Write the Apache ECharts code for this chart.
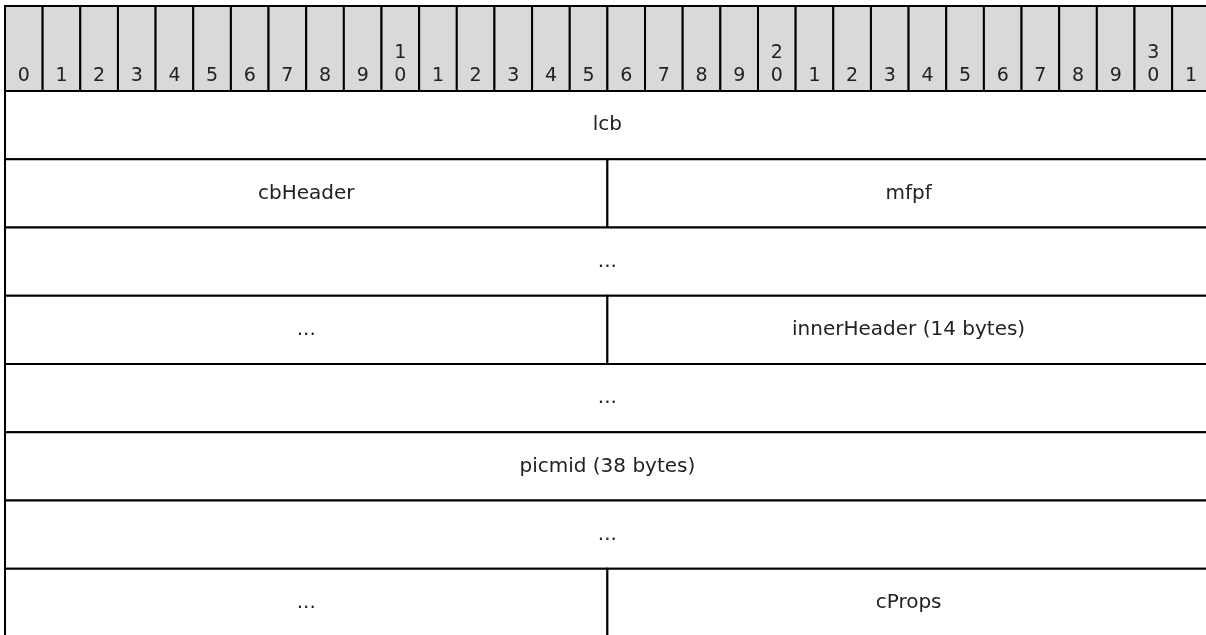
<!DOCTYPE html>
<html><head><meta charset="utf-8">
<script src="https://cdn.jsdelivr.net/npm/echarts@6/dist/echarts.min.js"></script>
<style>html,body{margin:0;padding:0;background:#fff}#c{width:1206px;height:635px}</style>
</head><body><div id="c"></div>
<script>
// Bit header labels (32 bits; 10/20/30 wrap onto two lines)
const bitLabels = ['0','1','2','3','4','5','6','7','8','9','1\n0','1','2','3','4','5','6','7','8','9','2\n0','1','2','3','4','5','6','7','8','9','3\n0','1'];
// Fields of the structure
const fieldNames = ['lcb','cbHeader','mfpf','...','...','innerHeader (14 bytes)','...','picmid (38 bytes)','...','...','cProps'];
const fieldRows = [0,1,1,2,3,3,4,5,6,7,7];
const fieldStartBits = [0,0,16,0,0,16,0,0,0,0,16];
const fieldBitWidths = [32,16,16,32,16,16,32,32,32,16,16];
const rowCount = 8;
const bitCount = 32;

const HEADER = 85 / 68.25;
const FONT = 'Verdana, "DejaVu Sans", sans-serif';
const FS = 20;

const chart = echarts.init(document.getElementById('c'), null, {renderer: 'canvas'});
chart.setOption({
  animation: false,
  backgroundColor: '#fff',
  grid: {left: 5, top: 6, width: bitCount * 37.65, height: 85 + rowCount * 68.25, outerBoundsMode: 'none', containLabel: false},
  xAxis: {type: 'value', min: 0, max: bitCount, show: false},
  yAxis: {type: 'value', min: 0, max: HEADER + rowCount, inverse: true, show: false},
  series: [
    {
      type: 'custom',
      clip: false,
      data: bitLabels.map((l, i) => [i, i + 1]),
      renderItem: function (params, api) {
        const i = api.value(0);
        const p0 = api.coord([i, 0]);
        const p1 = api.coord([i + 1, HEADER]);
        const label = bitLabels[params.dataIndex];
        return {
          type: 'group',
          children: [
            {type: 'rect', shape: {x: p0[0], y: p0[1], width: p1[0] - p0[0], height: p1[1] - p0[1]},
             style: {fill: '#d9d9d9', stroke: '#000', lineWidth: 2}},
            {type: 'text', x: (p0[0] + p1[0]) / 2, y: p1[1] - 3,
             style: {text: label, fill: '#222', font: '19px ' + FONT, align: 'center', verticalAlign: 'bottom', lineHeight: 23}}
          ]
        };
      }
    },
    {
      type: 'custom',
      clip: false,
      data: fieldNames.map((n, k) => [fieldStartBits[k], fieldStartBits[k] + fieldBitWidths[k], fieldRows[k]]),
      renderItem: function (params, api) {
        const s = api.value(0), e = api.value(1), r = api.value(2);
        const p0 = api.coord([s, HEADER + r]);
        const p1 = api.coord([e, HEADER + r + 1]);
        return {
          type: 'group',
          children: [
            {type: 'rect', shape: {x: p0[0], y: p0[1], width: p1[0] - p0[0], height: p1[1] - p0[1]},
             style: {fill: '#fff', stroke: '#000', lineWidth: 2}},
            {type: 'text', x: (p0[0] + p1[0]) / 2, y: (p0[1] + p1[1]) / 2,
             style: {text: fieldNames[params.dataIndex], fill: '#222', font: FS + 'px ' + FONT, align: 'center', verticalAlign: 'middle'}}
          ]
        };
      }
    }
  ]
});
</script></body></html>
